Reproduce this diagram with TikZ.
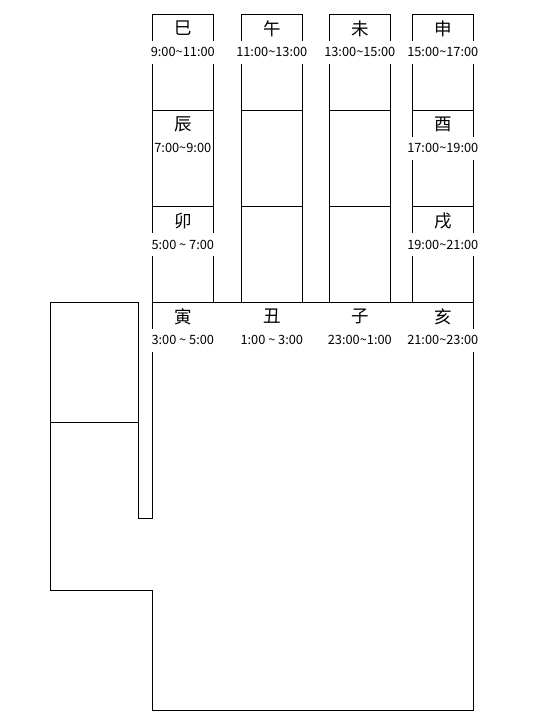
\documentclass[tikz,border=0pt]{standalone}
\usepackage{fontspec}
\setmainfont{Noto Sans CJK SC}
\newcommand\tld{\char"7E\relax}
\tikzset{
  ln/.style={line width=1pt, line join=miter},
  cell/.style={draw, line width=1pt, minimum width=61pt, minimum height=96pt, inner sep=0pt, outer sep=0pt, anchor=north west},
  branch/.style={font=\fontsize{17.5pt}{17.5pt}\selectfont, inner sep=0pt},
  hours/.style={font=\fontsize{12.8pt}{12.8pt}\selectfont, fill=white, inner xsep=0.5pt, inner ysep=0pt, minimum height=23pt},
}
\begin{document}
\begin{tikzpicture}[x=1pt, y=-1pt]
\useasboundingbox (0,0) rectangle (547,726);
% finger cells
\foreach \c/\x in {1/152.3, 2/241.3, 3/329.3, 4/412.3}{
  \foreach \r/\y in {1/14.3, 2/110.3, 3/206.5}{
    \node[cell] (c\c\r) at (\x,\y) {};
  }
}
% palm and thumb
\draw[ln] (152.3,302.3) -- (473.3,302.3) -- (473.3,710.3) -- (152.3,710.3) -- (152.3,590.7) -- (50.7,590.7) -- (50.7,302.3) -- (138.7,302.3) -- (138.7,518.3) -- (152.3,518.3) -- cycle;
\draw[ln] (50.7,422.3) -- (138.7,422.3);
% labels in fingers
\node[branch] (b1) at (182.8,28.6) {巳};
\node[hours]  (h1) at (182.8,52.3) {9:00\tld11:00};
\node[branch] (b2) at (271.8,28.6) {午};
\node[hours]  (h2) at (271.8,52.3) {11:00\tld13:00};
\node[branch] (b3) at (359.8,28.6) {未};
\node[hours]  (h3) at (359.8,52.3) {13:00\tld15:00};
\node[branch] (b4) at (442.8,28.6) {申};
\node[hours]  (h4) at (442.8,52.3) {15:00\tld17:00};
\node[branch] (b5) at (182.8,124.6) {辰};
\node[hours]  (h5) at (182.8,148.3) {7:00\tld9:00};
\node[branch] (b6) at (442.8,124.6) {酉};
\node[hours]  (h6) at (442.8,148.3) {17:00\tld19:00};
\node[branch] (b7) at (182.8,220.8) {卯};
\node[hours]  (h7) at (182.8,244.5) {5:00 \tld{} 7:00};
\node[branch] (b8) at (442.8,220.8) {戌};
\node[hours]  (h8) at (442.8,244.5) {19:00\tld21:00};
% labels in palm
\node[branch] (b9)  at (182.8,316.6) {寅};
\node[hours]  (h9)  at (182.8,340.3) {3:00 \tld{} 5:00};
\node[branch] (b10) at (271.8,316.6) {丑};
\node[hours]  (h10) at (271.8,340.3) {1:00 \tld{} 3:00};
\node[branch] (b11) at (359.8,316.6) {子};
\node[hours]  (h11) at (359.8,340.3) {23:00\tld1:00};
\node[branch] (b12) at (442.8,316.6) {亥};
\node[hours]  (h12) at (442.8,340.3) {21:00\tld23:00};
\end{tikzpicture}
\end{document}
